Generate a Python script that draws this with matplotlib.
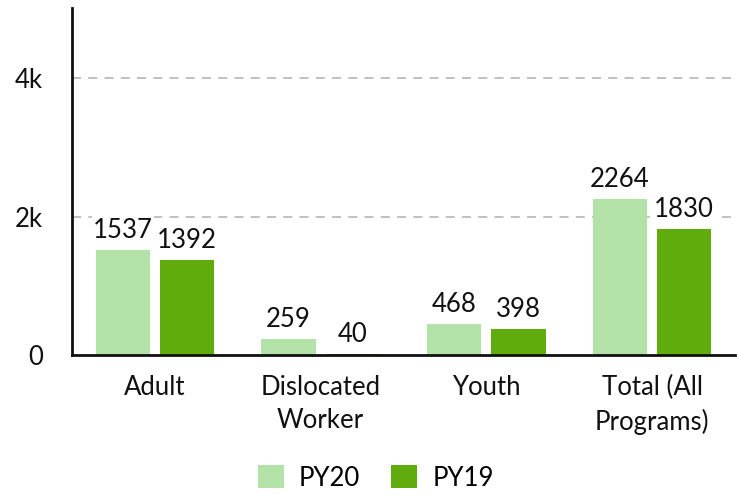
import matplotlib.pyplot as plt
from matplotlib.patches import Patch
from matplotlib.ticker import FuncFormatter
import numpy as np

categories = ['Adult', 'Dislocated\nWorker', 'Youth', 'Total (All\nPrograms)']
py20 = [1537, 259, 468, 2264]
py19 = [1392, 40, 398, 1830]
series_names = ['PY20', 'PY19']
colors = ['#b3e2a8', '#60ac0c']

plt.rcParams['font.family'] = ['Lato', 'DejaVu Sans']

fig = plt.figure(figsize=(7.37, 4.95), dpi=100)
ax = fig.add_axes([0.0977, 0.2838, 0.8996, 0.700])

x = np.arange(len(categories))
w = 0.327
off = 0.194
fs = 18.5
y_low = 32  # axis line sits just above the bar baseline, as in the original

# bars
b1 = ax.bar(x - off, py20, w, color=colors[0], zorder=2)
b2 = ax.bar(x + off, py19, w, color=colors[1], zorder=2)

for bars in (b1, b2):
    ax.bar_label(bars, padding=5, fontsize=fs, color='#111111', zorder=4,
                 bbox=dict(facecolor='white', edgecolor='none', pad=1))

ax.set_xlim(-0.5, 3.5)
ax.set_ylim(y_low, 5000)
ax.set_yticks([y_low, 2000, 4000])
ax.yaxis.set_major_formatter(FuncFormatter(lambda v, p: '0' if v < 1000 else f'{int(v/1000)}k'))

# grid lines at 2k and 4k only
for yv in (2000, 4000):
    ax.axhline(yv, color='#bbbbbb', lw=1.3, ls=(0, (5, 4)), zorder=1)

ax.set_xticks(x)
ax.set_xticklabels(categories, linespacing=1.4)
ax.tick_params(axis='both', length=0, labelsize=fs, labelcolor='#111111')
ax.tick_params(axis='y', pad=21)
ax.tick_params(axis='x', pad=15)

for s in ('top', 'right'):
    ax.spines[s].set_visible(False)
for s in ('left', 'bottom'):
    ax.spines[s].set_linewidth(2)
    ax.spines[s].set_color('#111111')
    ax.spines[s].set_zorder(3)

handles = [Patch(facecolor=c, edgecolor='none') for c in colors]
fig.legend(handles, series_names, loc='lower center', bbox_to_anchor=(0.51, -0.038),
           ncol=2, frameon=False, fontsize=fs, handlelength=1.0, handleheight=1.0,
           columnspacing=1.2, handletextpad=0.6)

fig.savefig('out.png', dpi=100)
